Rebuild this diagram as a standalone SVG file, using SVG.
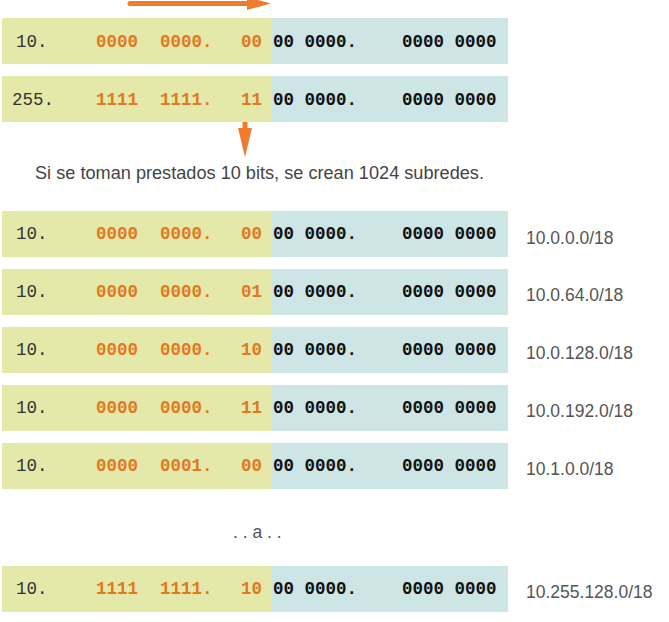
<svg xmlns="http://www.w3.org/2000/svg" width="669" height="622" viewBox="0 0 669 622">
<style>
.g{fill:#e4e9aa}
.b{fill:#cde6e5}
.m{font-family:"Liberation Mono","DejaVu Sans Mono",monospace;font-size:17.5px}
.p{fill:#333;font-weight:normal}
.o{fill:#e07a22;font-weight:bold}
.k{fill:#111;font-weight:bold}
.l{font-family:"Liberation Sans",Arial,sans-serif;font-size:17.5px;fill:#555}
.t{font-family:"Liberation Sans",Arial,sans-serif;font-size:17.5px;fill:#444}
.ar{stroke:#ee7b2e;stroke-width:5;fill:none;stroke-linecap:round}
.ah{fill:#ee7b2e}
</style>
<defs>
<g id="bg"><rect class="g" x="2" y="0" width="270" height="46"/><rect class="b" x="272" y="0" width="236" height="46"/></g>
</defs>
<g id="connectors">
<line class="ar" x1="130" y1="3.5" x2="252" y2="3.5"/>
<polygon class="ah" points="247,-3 271,3.5 247,10"/>
<line class="ar" x1="245" y1="122" x2="245" y2="132" style="stroke-linecap:butt"/>
<polygon class="ah" points="238,128 252,128 245,157"/>
</g>
<g id="mask-row">
<use href="#bg" y="18"/>
<text class="m p" x="16" y="47">10.</text>
<text class="m o" x="96" y="47">0000</text><text class="m o" x="160" y="47">0000.</text><text class="m o" x="241" y="47">00</text>
<text class="m k" x="273" y="47">00 0000.</text><text class="m k" x="402" y="47">0000 0000</text>
</g>
<g id="mask-row2">
<use href="#bg" y="76"/>
<text class="m p" x="12" y="105">255.</text>
<text class="m o" x="96" y="105">1111</text><text class="m o" x="160" y="105">1111.</text><text class="m o" x="241" y="105">11</text>
<text class="m k" x="273" y="105">00 0000.</text><text class="m k" x="402" y="105">0000 0000</text>
</g>
<g id="caption"><text class="t" x="35" y="179" textLength="449" lengthAdjust="spacingAndGlyphs">Si se toman prestados 10 bits, se crean 1024 subredes.</text></g>
<g id="row1">
<use href="#bg" y="211"/>
<text class="m p" x="16" y="239">10.</text>
<text class="m o" x="96" y="239">0000</text><text class="m o" x="160" y="239">0000.</text><text class="m o" x="241" y="239">00</text>
<text class="m k" x="273" y="239">00 0000.</text><text class="m k" x="402" y="239">0000 0000</text>
<text class="l" x="526" y="244">10.0.0.0/18</text>
</g>
<g id="row2">
<use href="#bg" y="269"/>
<text class="m p" x="16" y="297">10.</text>
<text class="m o" x="96" y="297">0000</text><text class="m o" x="160" y="297">0000.</text><text class="m o" x="241" y="297">01</text>
<text class="m k" x="273" y="297">00 0000.</text><text class="m k" x="402" y="297">0000 0000</text>
<text class="l" x="526" y="301">10.0.64.0/18</text>
</g>
<g id="row3">
<use href="#bg" y="327"/>
<text class="m p" x="16" y="355">10.</text>
<text class="m o" x="96" y="355">0000</text><text class="m o" x="160" y="355">0000.</text><text class="m o" x="241" y="355">10</text>
<text class="m k" x="273" y="355">00 0000.</text><text class="m k" x="402" y="355">0000 0000</text>
<text class="l" x="526" y="359">10.0.128.0/18</text>
</g>
<g id="row4">
<use href="#bg" y="385"/>
<text class="m p" x="16" y="413">10.</text>
<text class="m o" x="96" y="413">0000</text><text class="m o" x="160" y="413">0000.</text><text class="m o" x="241" y="413">11</text>
<text class="m k" x="273" y="413">00 0000.</text><text class="m k" x="402" y="413">0000 0000</text>
<text class="l" x="526" y="417">10.0.192.0/18</text>
</g>
<g id="row5">
<use href="#bg" y="443"/>
<text class="m p" x="16" y="471">10.</text>
<text class="m o" x="96" y="471">0000</text><text class="m o" x="160" y="471">0001.</text><text class="m o" x="241" y="471">00</text>
<text class="m k" x="273" y="471">00 0000.</text><text class="m k" x="402" y="471">0000 0000</text>
<text class="l" x="526" y="475">10.1.0.0/18</text>
</g>
<g id="ellipsis"><text class="l" x="233" y="538">. . a . .</text></g>
<g id="row6">
<use href="#bg" y="566"/>
<text class="m p" x="16" y="594">10.</text>
<text class="m o" x="96" y="594">1111</text><text class="m o" x="160" y="594">1111.</text><text class="m o" x="241" y="594">10</text>
<text class="m k" x="273" y="594">00 0000.</text><text class="m k" x="402" y="594">0000 0000</text>
<text class="l" x="526" y="598">10.255.128.0/18</text>
</g>
</svg>
